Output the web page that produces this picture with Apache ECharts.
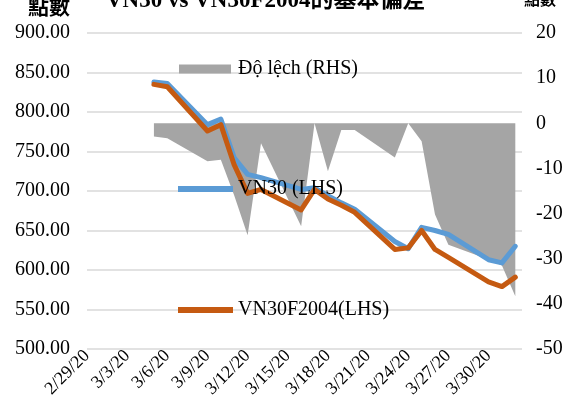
<!DOCTYPE html>
<html>
<head>
<meta charset="utf-8">
<script src="https://cdn.jsdelivr.net/npm/echarts@6/dist/echarts.min.js"></script>
<style>
  html, body { margin: 0; padding: 0; background: #fff; }
  #chart { width: 574px; height: 415px; }
</style>
</head>
<body>
<div id="chart"></div>
<script>
// trading days
const dates = ['3/5/20', '3/6/20', '3/9/20', '3/10/20', '3/11/20', '3/12/20', '3/13/20',
  '3/16/20', '3/17/20', '3/18/20', '3/19/20', '3/20/20', '3/23/20', '3/24/20', '3/25/20',
  '3/26/20', '3/27/20', '3/30/20', '3/31/20', '4/1/20']
const vn30 = [838, 836, 784, 791, 742, 721, 717, 702, 704, 694, 685, 677, 636, 627, 654, 650, 645, 613, 609, 630]
const vn30f2004 = [835, 832, 776, 784, 733, 697, 702, 676, 702, 690, 682, 673, 626, 628, 650, 626, 616, 585, 579, 591]
const deviation = [-2.9, -3.3, -8.4, -8.1, -16, -24.8, -4.4, -22.8, 0, -10.6, -1.5, -1.5, -7.6, 0, -4.0, -20.2, -26.9, -30.2, -31.5, -38.3]

const tickLabels = ['2/29/20', '3/3/20', '3/6/20', '3/9/20', '3/12/20', '3/15/20', '3/18/20',
  '3/21/20', '3/24/20', '3/27/20', '3/30/20']
const leftTicks = { min: 500, max: 900, interval: 50 }
const rightTicks = { min: -50, max: 20, interval: 10 }

// days since 2/29/20
const dayOf = s => {
  const [m, d] = s.split('/').map(Number)
  return Math.round((new Date(2020, m - 1, d) - new Date(2020, 1, 29)) / 864e5)
}
const pairs = vals => dates.map((s, i) => [dayOf(s), vals[i]])

const serif = "'Liberation Serif', 'Times New Roman', serif"
const cjk = "'Liberation Serif', 'Noto Sans CJK TC', serif"

const myChart = echarts.init(document.getElementById('chart'))

const option = {
  backgroundColor: '#fff',
  animation: false,
  grid: { left: 87, right: 52, top: 33, bottom: 66 },
  graphic: [
    { type: 'text', left: 106, top: -10, style: { text: 'VN30 vs VN30F2004的基本偏差', font: "bold 23px " + cjk, fill: '#000' } },
    { type: 'text', left: 28, top: -4, style: { text: '點數', font: "bold 21px 'Noto Sans CJK TC'", fill: '#000' } },
    { type: 'text', left: 524, top: -9, style: { text: '點數', font: "bold 16px 'Noto Sans CJK TC'", fill: '#000' } }
  ],
  legend: [
    {
      data: ['Độ lệch (RHS)'], left: 174, top: 54,
      icon: 'rect', itemWidth: 52, itemHeight: 9,
      textStyle: { fontFamily: serif, fontSize: 20, color: '#000', padding: [0, 0, 0, 2] }
    },
    {
      data: ['VN30 (LHS)'], left: 173, top: 174,
      icon: 'rect', itemWidth: 55, itemHeight: 6,
      textStyle: { fontFamily: serif, fontSize: 20, color: '#000', padding: [0, 0, 0, 0] }
    },
    {
      data: ['VN30F2004(LHS)'], left: 173, top: 295,
      icon: 'rect', itemWidth: 55, itemHeight: 6,
      textStyle: { fontFamily: serif, fontSize: 20, color: '#000', padding: [0, 0, 0, 0] }
    }
  ],
  xAxis: {
    type: 'value',
    min: 0,
    max: 32.5,
    interval: 3,
    axisLine: { show: false },
    axisTick: { show: false },
    splitLine: { show: false },
    axisLabel: {
      rotate: 45,
      margin: 4,
      showMaxLabel: false,
      fontFamily: serif,
      fontSize: 18,
      color: '#000',
      formatter: v => tickLabels[v / 3] || ''
    }
  },
  yAxis: [
    {
      type: 'value',
      ...leftTicks,
      axisLine: { show: false },
      axisTick: { show: false },
      splitLine: { lineStyle: { color: '#d9d9d9', width: 1.5 } },
      axisLabel: {
        fontFamily: serif, fontSize: 20, color: '#000', margin: 17,
        formatter: v => v.toFixed(2)
      }
    },
    {
      type: 'value',
      ...rightTicks,
      axisLine: { show: false },
      axisTick: { show: false },
      splitLine: { show: false },
      axisLabel: { fontFamily: serif, fontSize: 20, color: '#000', margin: 14 }
    }
  ],
  series: [
    {
      name: 'Độ lệch (RHS)',
      type: 'line',
      yAxisIndex: 1,
      data: pairs(deviation),
      color: '#a5a5a5',
      symbol: 'none',
      lineStyle: { width: 0 },
      areaStyle: { color: '#a5a5a5', opacity: 1 },
      z: 1
    },
    {
      name: 'VN30 (LHS)',
      type: 'line',
      data: pairs(vn30),
      color: '#5b9bd5',
      symbol: 'none',
      lineStyle: { width: 5, cap: 'round', join: 'round' },
      z: 2
    },
    {
      name: 'VN30F2004(LHS)',
      type: 'line',
      data: pairs(vn30f2004),
      color: '#c55a11',
      symbol: 'none',
      lineStyle: { width: 5, cap: 'round', join: 'round' },
      z: 3
    }
  ]
}

myChart.setOption(option)
</script>
</body>
</html>
